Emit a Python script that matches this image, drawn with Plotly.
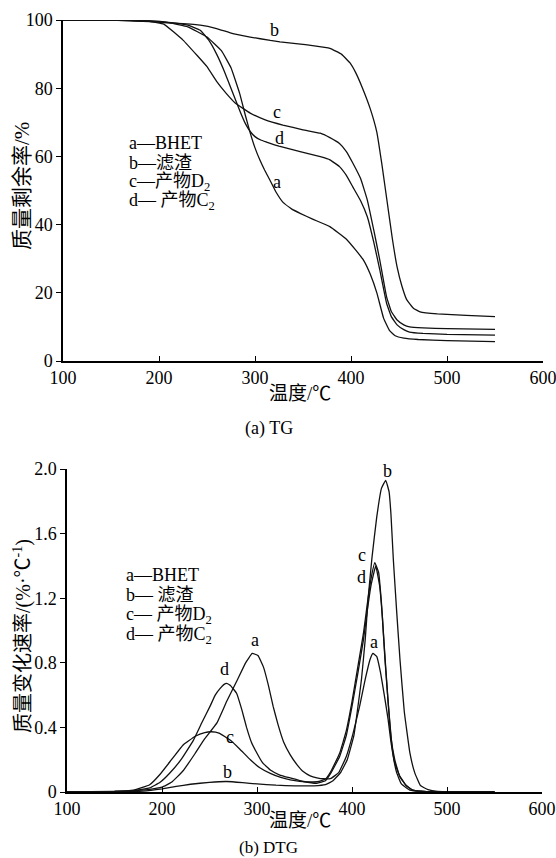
import plotly.graph_objects as go

# ---------------- TG data (temperature in ℃, residual mass %) ----------------
tg_a_T = [100,150,190,210,230,250,265,275,284,290,295,300,305,310,316,322,329,338,347,360,378,395,405,413,420,427,434,440,446,455,470,500,550]
tg_a_P = [100,100,99.7,99.2,98,95,91,86,78.5,72,66.9,62.5,59,56,52.8,49.5,46.6,44.6,43.3,41.6,39.4,35.8,32.5,29.6,25.5,19.9,12.5,9,7.4,6.7,6.3,6.0,5.7]

tg_b_T = [100,150,190,220,243,260,277,295,316,326,345,360,378,390,399,405,412,420,427,432,437.5,443,448,453,458,465,472,490,520,550]
tg_b_P = [100,100,99.5,99,98.5,97.5,96,95,94,93.6,93,92.5,91.7,90,87.4,84.5,80,74,67,58,47,36,27.6,22,18,15.5,14.4,13.8,13.4,13.0]

tg_c_T = [100,150,190,205,225,240,250,260,270,280,295,310,329,350,368,378,388,395,402,410,417,424,430,437,442,448,455,461,475,500,550]
tg_c_P = [100,100,99.6,98.8,94.1,89.5,86.3,82,78.5,75.5,72.7,70.8,69.2,67.8,66.8,65.5,63.8,61.5,58,53.5,47.2,38,29.6,18.9,14.5,12,10.6,10,9.7,9.5,9.3]

tg_d_T = [100,150,190,210,230,243,252,260,268,277,285,290,295,300,306,312,325,347,368,378,388,395,402,410,417,424,430,437,442,448,455,461,475,500,550]
tg_d_P = [100,100,99.7,99.3,98.5,97,94,90,85,78.5,72.8,69.6,67.3,65.8,64.8,64.2,63,61.4,59.9,59,57,54.5,51,47,42.3,34.5,26.7,17,13,10.6,9.2,8.5,8.1,7.8,7.6]

# ---------------- DTG data (temperature in ℃, rate %/℃) ----------------
dtg_a_T = [100,150,170,185,200,210,222,235,245,258,268,279,288,295,301,307,312,317,322,328,335,342,349,356,363,370,378,386,394,401,408,414,419,422,426,430,434,438,441,444,447,452,461,475,500,550]
dtg_a_V = [0,0.003,0.008,0.015,0.03,0.06,0.13,0.24,0.33,0.43,0.56,0.69,0.8,0.858,0.845,0.77,0.66,0.53,0.42,0.31,0.23,0.17,0.125,0.1,0.088,0.082,0.085,0.12,0.22,0.36,0.53,0.7,0.82,0.858,0.84,0.74,0.6,0.45,0.31,0.2,0.12,0.05,0.012,0.003,0,0]

dtg_b_T = [100,150,180,200,215,230,250,268,285,300,320,340,360,372,380,388,395,402,410,414,417,421,426,431,435.5,439,441,443.5,447,450.5,455,461,466,472,480,490,550]
dtg_b_V = [0,0.002,0.006,0.02,0.035,0.048,0.06,0.065,0.058,0.05,0.042,0.038,0.038,0.045,0.07,0.12,0.2,0.35,0.7,0.95,1.2,1.45,1.7,1.88,1.93,1.86,1.72,1.44,1.12,0.82,0.5,0.24,0.12,0.04,0.015,0.004,0]

dtg_c_T = [100,150,170,187,198,210,222,235,245,252,260,272,282,293,303,314,325,335,345,356,365,372,378,387,394,400,406,412,416,420,424,428,431,434,437.5,441,445,450,457,464,475,500,550]
dtg_c_V = [0,0.004,0.012,0.045,0.11,0.2,0.29,0.345,0.368,0.373,0.365,0.32,0.265,0.2,0.15,0.115,0.09,0.075,0.066,0.062,0.065,0.08,0.13,0.24,0.38,0.56,0.77,0.98,1.16,1.32,1.42,1.36,1.17,0.9,0.6,0.34,0.2,0.1,0.04,0.012,0.004,0,0]

dtg_d_T = [100,150,170,187,198,208,220,233,242,250.5,256,261,265,268,272,278.6,284,289,294,300,306,314,324,335,349,363,372,378,387,394,400,406,412,416,420,425,429,432,434.7,438,441.8,445,450.5,457,464,475,500,550]
dtg_d_V = [0,0.003,0.008,0.025,0.06,0.116,0.2,0.32,0.43,0.53,0.6,0.64,0.665,0.673,0.66,0.61,0.51,0.4,0.31,0.24,0.18,0.136,0.105,0.087,0.065,0.054,0.07,0.12,0.22,0.35,0.53,0.73,0.94,1.12,1.28,1.40,1.28,1.08,0.82,0.56,0.30,0.18,0.095,0.04,0.012,0.004,0,0]

x_ticks = [100, 200, 300, 400, 500, 600]
tg_ticks = [0, 20, 40, 60, 80, 100]
dtg_ticks = [0, 0.4, 0.8, 1.2, 1.6, 2.0]
dtg_ticktext = ["0", "0.4", "0.8", "1.2", "1.6", "2.0"]

curve_names = ["a", "b", "c", "d"]
legend_lines = ["a—BHET", "b—滤渣", "c—产物D<sub>2</sub>", "d— 产物C<sub>2</sub>"]
legend_lines_b = ["a—BHET", "b— 滤渣", "c— 产物D<sub>2</sub>", "d— 产物C<sub>2</sub>"]

FONT = "Liberation Serif, Noto Sans CJK SC"
W, H = 556, 858

fig = go.Figure()
line = dict(color="#111111", width=1.3, shape="spline", smoothing=0.3)
for T, P in [(tg_a_T, tg_a_P), (tg_b_T, tg_b_P), (tg_c_T, tg_c_P), (tg_d_T, tg_d_P)]:
    fig.add_trace(go.Scatter(x=T, y=P, mode="lines", line=line, xaxis="x", yaxis="y", showlegend=False))
for T, V in [(dtg_a_T, dtg_a_V), (dtg_b_T, dtg_b_V), (dtg_c_T, dtg_c_V), (dtg_d_T, dtg_d_V)]:
    fig.add_trace(go.Scatter(x=T, y=V, mode="lines", line=line, xaxis="x2", yaxis="y2", showlegend=False))

def px(x):
    return x / W

def py(y):
    return 1 - y / H

axis_common = dict(showline=True, linecolor="black", linewidth=1.5, showgrid=False, zeroline=False, automargin=False,
                   ticklabeloverflow="allow",
                   tickfont=dict(family="Liberation Serif", size=18, color="black"), ticklen=5, tickcolor="black", tickwidth=1.3)

fig.update_layout(
    width=W, height=H, margin=dict(l=0, r=0, t=0, b=0, pad=0),
    paper_bgcolor="white", plot_bgcolor="white",
    xaxis=dict(domain=[px(63), px(543)], range=[100, 600], tickvals=x_ticks, ticks="inside", anchor="y", **axis_common),
    yaxis=dict(domain=[py(361), py(20)], range=[0, 100], tickvals=tg_ticks, ticks="outside", anchor="x", **axis_common),
    xaxis2=dict(domain=[px(67), px(542)], range=[100, 600], tickvals=x_ticks, ticks="inside", anchor="y2", **axis_common),
    yaxis2=dict(domain=[py(792), py(469)], range=[0, 2.0], tickvals=dtg_ticks, ticktext=dtg_ticktext, ticks="outside", anchor="x2", **axis_common),
)

ann = []
def txt(x, y, s, size=18, xanchor="center", xref="paper", yref="paper", angle=0):
    ann.append(dict(x=x, y=y, text=s, xref=xref, yref=yref, showarrow=False, xanchor=xanchor, yanchor="middle",
                    align="left" if xanchor == "left" else "center", borderpad=0,
                    textangle=angle, font=dict(family=FONT, size=size, color="black")))

# curve labels (data coords)
tg_label_pos = [(322.6, 52.6), (320.8, 97.0), (322.6, 73.1), (325.3, 65.3)]
for n, (x, y) in zip(curve_names, tg_label_pos):
    txt(x, y, n, xref="x", yref="y")
dtg_label_pos = [(298, 0.94), (268.7, 0.126), (271.6, 0.34), (266, 0.76),
                 (423, 0.93), (437, 1.99), (410, 1.47), (409.5, 1.33)]
for n, (x, y) in zip(curve_names * 2, dtg_label_pos):
    txt(x, y, n, xref="x2", yref="y2")

# legends
for i, s in enumerate(legend_lines):
    txt(px(128), py(143 + 19.5 * i), s, xanchor="left")
for i, s in enumerate(legend_lines_b):
    txt(px(125), py(575 + 20 * i), s, xanchor="left")

# axis titles and captions
txt(px(300), py(393), "温度/℃", size=19)
txt(px(269), py(428), "(a) TG", size=18)
txt(px(300), py(820), "温度/℃", size=19)
txt(px(268), py(847), "(b) DTG", size=17)
txt(px(22), py(186), "质量剩余率/%", size=21, angle=-90)
txt(px(22), py(636), "质量变化速率/(%·℃<sup>-1</sup>)", size=20, angle=-90)

fig.update_layout(annotations=ann)
fig.write_html("out.html", config={"displayModeBar": False},
               post_script="document.body.style.margin='0';document.body.style.overflow='hidden';")
